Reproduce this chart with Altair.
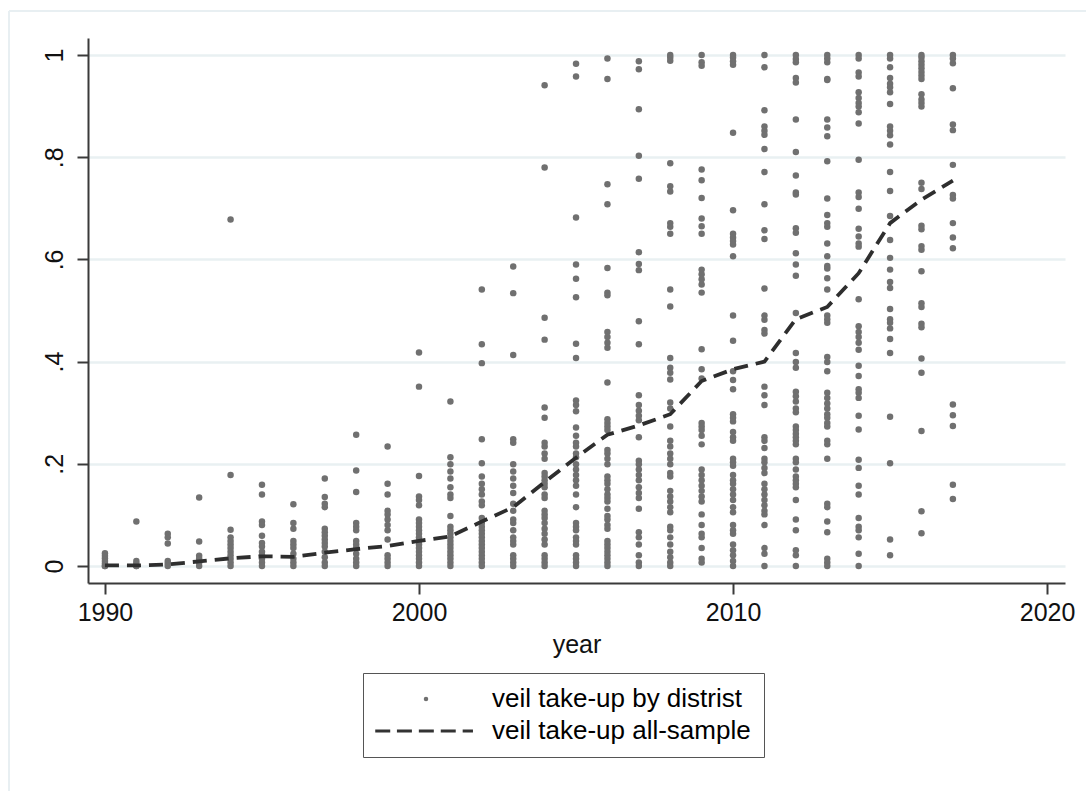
import altair as alt
import pandas as pd

years = list(range(1990, 2018))

v1990 = [0, 0, 0.005, 0.01, 0.015, 0.02, 0.025]
v1991 = [0.087, 0.01, 0.005, 0, 0]
v1992 = [0.063, 0.056, 0.044, 0.01, 0.005, 0]
v1993 = [0.134, 0.048, 0.02, 0.014, 0.007, 0]
v1994 = [0.678, 0.178, 0.071, 0.056, 0.049, 0.042, 0.035, 0.028, 0.021, 0.014, 0.007, 0]
v1995 = [0.159, 0.14, 0.087, 0.08, 0.059, 0.045, 0.038, 0.028, 0.021, 0.014, 0.007, 0]
v1996 = [0.121, 0.084, 0.073, 0.049, 0.042, 0.035, 0.024, 0.014, 0.007, 0]
v1997 = [0.171, 0.135, 0.122, 0.115, 0.073, 0.066, 0.059, 0.052, 0.045, 0.038, 0.028, 0.017, 0.007, 0]
v1998 = [0.257, 0.187, 0.145, 0.084, 0.077, 0.07, 0.049, 0.042, 0.035, 0.024, 0.014, 0.007, 0]
v1999 = [0.234, 0.161, 0.14, 0.108, 0.101, 0.091, 0.08, 0.07, 0.052, 0.021, 0.014, 0.007, 0]
v2000 = [0.418, 0.351, 0.176, 0.136, 0.129, 0.119, 0.091, 0.084, 0.077, 0.07, 0.063, 0.056,
         0.049, 0.042, 0.035, 0.028, 0.021, 0.014, 0.007, 0]
v2001 = [0.322, 0.213, 0.199, 0.185, 0.171, 0.154, 0.14, 0.133, 0.098, 0.077, 0.07, 0.063,
         0.056, 0.049, 0.042, 0.035, 0.028, 0.021, 0.014, 0.007, 0]
v2002 = [0.541, 0.434, 0.397, 0.248, 0.201, 0.175, 0.161, 0.15, 0.14, 0.126, 0.119, 0.094,
         0.084, 0.077, 0.07, 0.063, 0.056, 0.049, 0.042, 0.035, 0.028, 0.021, 0.014, 0.007, 0]
v2003 = [0.586, 0.534, 0.413, 0.248, 0.241, 0.199, 0.185, 0.171, 0.157, 0.143, 0.122, 0.108,
         0.091, 0.084, 0.07, 0.056, 0.049, 0.042, 0.021, 0.014, 0.007, 0]
v2004 = [0.941, 0.78, 0.486, 0.443, 0.31, 0.29, 0.241, 0.234, 0.22, 0.21, 0.182, 0.175, 0.168,
         0.161, 0.154, 0.14, 0.133, 0.108, 0.101, 0.094, 0.084, 0.073, 0.063, 0.052, 0.042,
         0.021, 0.014, 0.007, 0]
v2005 = [0.983, 0.958, 0.682, 0.59, 0.562, 0.526, 0.435, 0.407, 0.324, 0.315, 0.303, 0.271,
         0.255, 0.241, 0.234, 0.22, 0.213, 0.199, 0.189, 0.178, 0.168, 0.157, 0.14, 0.115,
         0.084, 0.077, 0.07, 0.056, 0.049, 0.042, 0.021, 0.014, 0.007, 0]
v2006 = [0.993, 0.953, 0.747, 0.708, 0.583, 0.535, 0.53, 0.458, 0.448, 0.437, 0.427, 0.359,
         0.287, 0.28, 0.273, 0.266, 0.227, 0.22, 0.21, 0.199, 0.175, 0.168, 0.161, 0.15, 0.14,
         0.133, 0.126, 0.112, 0.098, 0.091, 0.08, 0.073, 0.049, 0.042, 0.035, 0.028, 0.021,
         0.014, 0.007, 0]
v2007 = [0.988, 0.972, 0.894, 0.803, 0.758, 0.614, 0.591, 0.579, 0.479, 0.434, 0.334, 0.315,
         0.304, 0.294, 0.285, 0.252, 0.206, 0.199, 0.189, 0.178, 0.168, 0.154, 0.143, 0.133,
         0.112, 0.066, 0.056, 0.042, 0.021, 0.007, 0]
v2008 = [1.0, 0.995, 0.989, 0.788, 0.743, 0.733, 0.671, 0.664, 0.65, 0.541, 0.508, 0.407,
         0.388, 0.378, 0.365, 0.32, 0.308, 0.273, 0.245, 0.234, 0.22, 0.21, 0.199, 0.182,
         0.175, 0.147, 0.136, 0.126, 0.115, 0.105, 0.077, 0.07, 0.056, 0.042, 0.028, 0.017,
         0.007, 0]
v2009 = [1.0, 0.986, 0.979, 0.776, 0.755, 0.72, 0.68, 0.665, 0.65, 0.58, 0.571, 0.561, 0.551,
         0.535, 0.424, 0.385, 0.367, 0.28, 0.273, 0.266, 0.255, 0.238, 0.189, 0.178, 0.168,
         0.157, 0.147, 0.136, 0.126, 0.101, 0.08, 0.063, 0.056, 0.035, 0.014, 0.007]
v2010 = [1.0, 0.995, 0.988, 0.981, 0.848, 0.696, 0.65, 0.643, 0.636, 0.629, 0.606, 0.49,
         0.441, 0.381, 0.364, 0.346, 0.297, 0.29, 0.283, 0.262, 0.252, 0.245, 0.21, 0.203,
         0.196, 0.178, 0.168, 0.161, 0.15, 0.14, 0.129, 0.115, 0.105, 0.08, 0.07, 0.063,
         0.042, 0.031, 0.021, 0.01, 0]
v2011 = [1.0, 0.976, 0.892, 0.86, 0.852, 0.844, 0.816, 0.771, 0.708, 0.657, 0.64, 0.543,
         0.49, 0.482, 0.462, 0.455, 0.351, 0.334, 0.315, 0.252, 0.245, 0.231, 0.21, 0.203,
         0.192, 0.182, 0.161, 0.15, 0.14, 0.129, 0.119, 0.108, 0.101, 0.08, 0.035, 0.024, 0]
v2012 = [1.0, 0.992, 0.986, 0.955, 0.946, 0.874, 0.81, 0.764, 0.731, 0.727, 0.661, 0.652,
         0.612, 0.59, 0.568, 0.495, 0.417, 0.399, 0.388, 0.341, 0.332, 0.322, 0.308, 0.301,
         0.273, 0.266, 0.259, 0.252, 0.245, 0.238, 0.21, 0.203, 0.189, 0.175, 0.168, 0.161,
         0.154, 0.129, 0.091, 0.07, 0.031, 0.021, 0]
v2013 = [1.0, 0.993, 0.986, 0.953, 0.951, 0.874, 0.858, 0.841, 0.792, 0.719, 0.687, 0.671,
         0.664, 0.631, 0.606, 0.587, 0.582, 0.563, 0.541, 0.49, 0.483, 0.476, 0.409, 0.399,
         0.381, 0.339, 0.329, 0.318, 0.308, 0.297, 0.29, 0.28, 0.273, 0.245, 0.238, 0.21,
         0.122, 0.115, 0.087, 0.066, 0.014, 0.007, 0]
v2014 = [1.0, 0.993, 0.966, 0.958, 0.927, 0.916, 0.906, 0.899, 0.888, 0.866, 0.795, 0.731,
         0.722, 0.699, 0.66, 0.645, 0.631, 0.625, 0.522, 0.469, 0.458, 0.448, 0.437, 0.423,
         0.392, 0.372, 0.346, 0.339, 0.329, 0.294, 0.267, 0.208, 0.192, 0.157, 0.14, 0.094,
         0.077, 0.07, 0.056, 0.024, 0]
v2015 = [1.0, 0.993, 0.976, 0.955, 0.944, 0.937, 0.927, 0.904, 0.86, 0.852, 0.843, 0.825,
         0.771, 0.734, 0.685, 0.638, 0.603, 0.58, 0.556, 0.544, 0.503, 0.483, 0.476, 0.465,
         0.444, 0.417, 0.292, 0.201, 0.052, 0.021]
v2016 = [1.0, 0.995, 0.988, 0.981, 0.974, 0.967, 0.96, 0.953, 0.923, 0.913, 0.906, 0.899,
         0.75, 0.738, 0.666, 0.659, 0.626, 0.619, 0.577, 0.514, 0.507, 0.474, 0.467, 0.406,
         0.378, 0.264, 0.107, 0.064]
v2017 = [1.0, 0.993, 0.984, 0.935, 0.864, 0.853, 0.785, 0.726, 0.719, 0.671, 0.643, 0.622,
         0.316, 0.295, 0.274, 0.159, 0.131]

district_lists = [v1990, v1991, v1992, v1993, v1994, v1995, v1996, v1997, v1998, v1999,
                  v2000, v2001, v2002, v2003, v2004, v2005, v2006, v2007, v2008, v2009,
                  v2010, v2011, v2012, v2013, v2014, v2015, v2016, v2017]

mean_values = [0.001, 0.001, 0.003, 0.009, 0.015, 0.019, 0.018, 0.026, 0.033, 0.039, 0.049,
               0.058, 0.087, 0.115, 0.164, 0.212, 0.257, 0.275, 0.297, 0.362, 0.385, 0.400,
               0.483, 0.507, 0.573, 0.671, 0.717, 0.754]

x_ticks = [1990, 2000, 2010, 2020]
y_ticks = [0, 0.2, 0.4, 0.6, 0.8, 1.0]

SER_PT = "veil take-up by distrist"
SER_LN = "veil take-up all-sample"

rows = []
for yr, vals in zip(years, district_lists):
    for v in vals:
        rows.append({"year": yr, "share": v, "series": SER_PT})
pts = pd.DataFrame(rows)
line_df = pd.DataFrame({"year": years, "share": mean_values})

FONT = "Liberation Sans"
AXC = "#3a3a3a"

xscale = alt.Scale(domain=[1989.46, 2020.57], nice=False, zero=False)
yscale = alt.Scale(domain=[-0.0333, 1.0333], nice=False, zero=False)

DASH = ("M-22.7,-0.7L-16,-0.7L-16,0.7L-22.7,0.7Z "
        "M-13,-0.7L-6.3,-0.7L-6.3,0.7L-13,0.7Z "
        "M-3.2,-0.7L3.5,-0.7L3.5,0.7L-3.2,0.7Z "
        "M6.6,-0.7L13.3,-0.7L13.3,0.7L6.6,0.7Z "
        "M16.4,-0.7L21,-0.7L21,0.7L16.4,0.7Z")

color_scale = alt.Scale(domain=[SER_PT, SER_LN], range=["#707070", "#333333"])
shape_scale = alt.Scale(domain=[SER_PT, SER_LN], range=["circle", DASH])

legend = alt.Legend(
    title=None, orient="none", legendX=275, legendY=635, direction="vertical",
    strokeColor="#555555", padding=13, symbolSize=20, symbolOffset=37, labelOffset=53,
    labelFontSize=26, labelFont=FONT, labelColor="#000000", rowPadding=6,
    symbolStrokeWidth=0, labelLimit=0, fillColor="#ffffff",
    labelExpr="datum.label + '\u2003'",
)

x_axis = alt.Axis(
    values=x_ticks, format="d", title="year", grid=False,
    labelFontSize=25, labelFont=FONT, labelColor="#111111", labelPadding=6,
    titleFontSize=25, titleFont=FONT, titleFontWeight="normal", titleColor="#111111",
    titlePadding=7, tickSize=11, tickWidth=2, tickColor=AXC, domainColor=AXC, domainWidth=2,
    labelFlush=False,
)
y_axis = alt.Axis(
    values=y_ticks, title=None, grid=True, gridColor="#e9f0f2", gridWidth=2.5,
    labelExpr="datum.value < 0.05 ? '0' : (datum.value > 0.95 ? '1' : '.' + format(round(datum.value * 10), 'd'))",
    labelAngle=270, labelAlign="center", labelBaseline="alphabetic", labelPadding=15,
    labelFontSize=25, labelFont=FONT, labelColor="#111111",
    tickSize=11, tickWidth=2, tickColor=AXC, domainColor=AXC, domainWidth=2, labelFlush=False,
)

points = alt.Chart(pts).mark_point(filled=True, size=42, opacity=1).encode(
    x=alt.X("year:Q", scale=xscale, axis=x_axis),
    y=alt.Y("share:Q", scale=yscale, axis=y_axis),
    color=alt.Color("series:N", scale=color_scale, legend=legend),
    shape=alt.Shape("series:N", scale=shape_scale, legend=legend),
)

line = alt.Chart(line_df).mark_line(strokeWidth=3.8, strokeDash=[14, 8], color="#2e2e2e").encode(
    x=alt.X("year:Q", scale=xscale),
    y=alt.Y("share:Q", scale=yscale),
)

frame_src = pd.DataFrame({"k": [0]})
frame_top = alt.Chart(frame_src).mark_rule(color="#e8eff2", strokeWidth=2).encode(
    x=alt.value(-79), x2=alt.value(998), y=alt.value(-27))
frame_left = alt.Chart(frame_src).mark_rule(color="#e8eff2", strokeWidth=2).encode(
    x=alt.value(-79), y=alt.value(-27), y2=alt.value(753))

chart = alt.layer(frame_top, frame_left, points, line).properties(
    width=977, height=545,
    padding={"left": 88, "top": 38, "right": 21, "bottom": 208},
    autosize=alt.AutoSizeParams(type="none"),
    background="#ffffff",
).configure_view(stroke=None)

chart.save("out.html", embed_options={"renderer": "svg", "actions": False})
